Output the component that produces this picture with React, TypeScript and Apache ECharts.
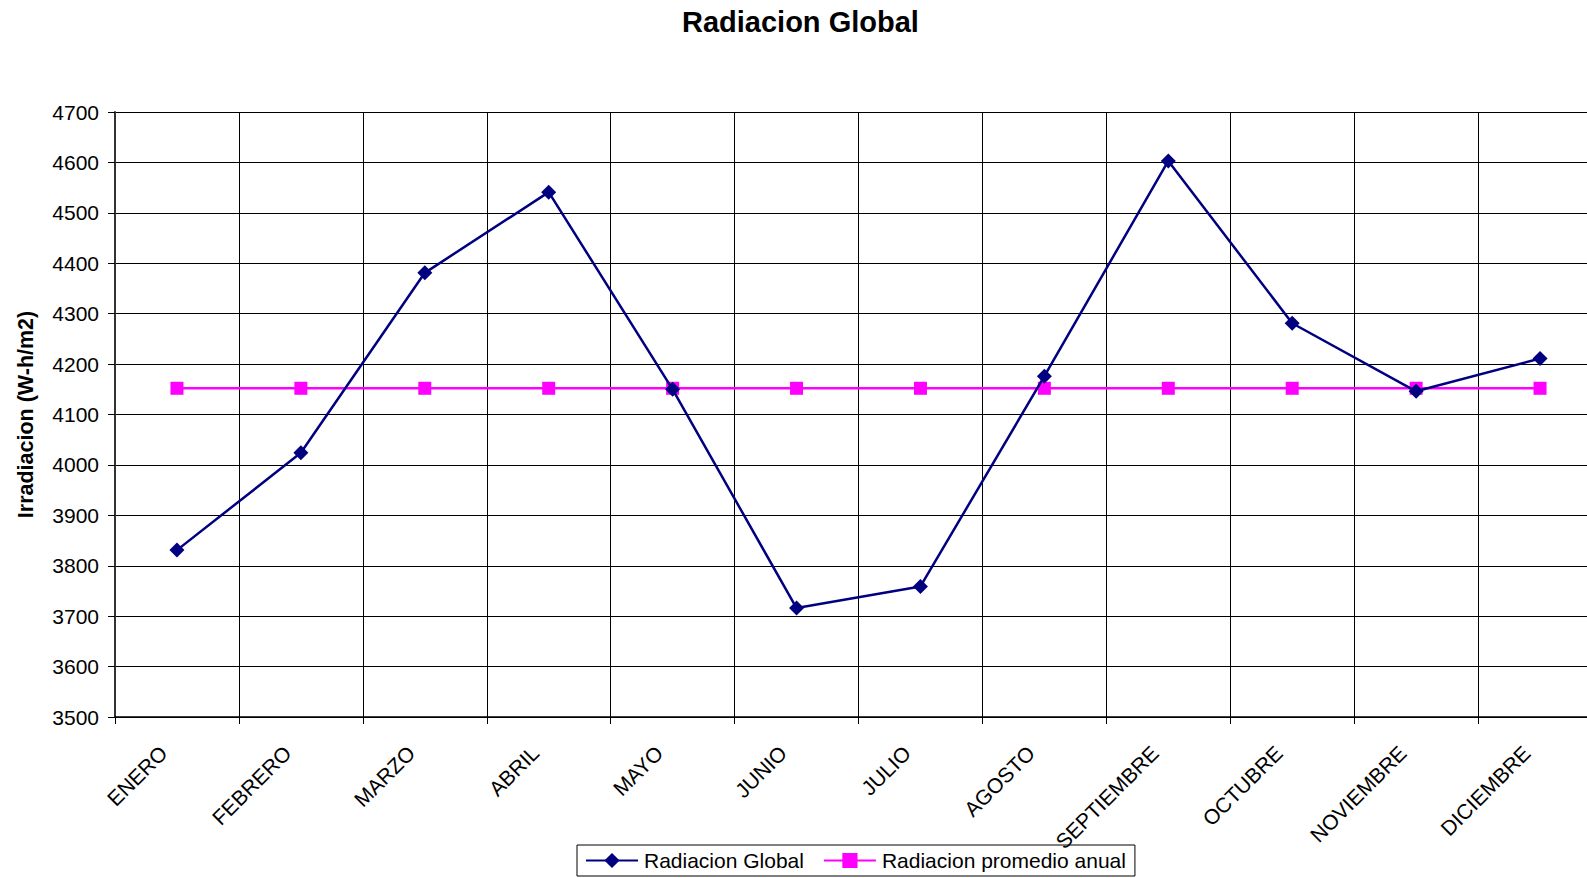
import React, { useEffect, useRef } from "react";
import * as echarts from "echarts";

const months = [
  "ENERO", "FEBRERO", "MARZO", "ABRIL", "MAYO", "JUNIO",
  "JULIO", "AGOSTO", "SEPTIEMBRE", "OCTUBRE", "NOVIEMBRE", "DICIEMBRE",
];
const radiacionGlobal = [3831, 4024, 4381, 4541, 4150, 3716, 3759, 4176, 4603, 4281, 4146, 4211];
const promedioAnual = [4152, 4152, 4152, 4152, 4152, 4152, 4152, 4152, 4152, 4152, 4152, 4152];
const yMin = 3500;
const yMax = 4700;
const yStep = 100;

const FONT = "'Liberation Sans', Arial, sans-serif";

export default function App() {
  const ref = useRef<HTMLDivElement>(null);
  useEffect(() => {
    document.body.style.margin = "0";
    const chart = echarts.init(ref.current!, undefined, { renderer: "svg" });
    chart.setOption({
      animation: false,
      backgroundColor: "#ffffff",
      textStyle: { fontFamily: FONT },
      title: {
        text: "Radiacion Global",
        left: 677,
        top: 2,
        textStyle: { fontFamily: FONT, fontSize: 29, fontWeight: "bold", color: "#000" },
      },
      legend: {
        left: 577,
        top: 845,
        padding: [5, 9, 5, 8],
        itemWidth: 52,
        itemHeight: 19,
        itemGap: 19,
        borderColor: "#000",
        borderWidth: 1,
        textStyle: { fontFamily: FONT, fontSize: 21, color: "#000", padding: [0, 0, 0, 1] },
        data: ["Radiacion Global", "Radiacion promedio anual"],
      },
      grid: {
        left: 115,
        top: 112,
        width: 1487,
        height: 605,
        containLabel: false,
        outerBoundsMode: "none",
      },
      xAxis: {
        type: "category",
        data: months,
        boundaryGap: true,
        axisLine: { lineStyle: { color: "#000", width: 1.5 } },
        axisTick: { show: true, inside: false, length: 7, lineStyle: { color: "#000" } },
        splitLine: { show: true, lineStyle: { color: "#000", width: 1 } },
        axisLabel: {
          interval: 0,
          rotate: 45,
          margin: 19,
          padding: [0, 19, 0, 0],
          fontFamily: FONT,
          fontSize: 21,
          color: "#000",
        },
      },
      yAxis: {
        type: "value",
        min: yMin,
        max: yMax,
        interval: yStep,
        name: "Irradiacion (W-h/m2)",
        nameLocation: "middle",
        nameRotate: 90,
        nameGap: 78,
        nameTextStyle: { fontFamily: FONT, fontSize: 21.5, fontWeight: "bold", color: "#000" },
        axisLine: { show: true, lineStyle: { color: "#333", width: 2 } },
        axisTick: { show: true, length: 7, lineStyle: { color: "#000" } },
        splitLine: { show: true, lineStyle: { color: "#000", width: 1 } },
        axisLabel: {
          fontFamily: FONT,
          fontSize: 21,
          color: "#000",
          margin: 16,
          formatter: (v: number) => String(v),
        },
      },
      series: [
        {
          name: "Radiacion Global",
          type: "line",
          data: radiacionGlobal,
          symbol: "diamond",
          symbolSize: 15,
          itemStyle: { color: "#000080" },
          lineStyle: { color: "#000080", width: 2.5 },
          z: 3,
        },
        {
          name: "Radiacion promedio anual",
          type: "line",
          data: promedioAnual,
          symbol: "rect",
          symbolSize: 13,
          itemStyle: { color: "#ff00ff" },
          lineStyle: { color: "#ff00ff", width: 2.5 },
          z: 2,
        },
      ],
    });
    return () => chart.dispose();
  }, []);
  return <div ref={ref} style={{ width: 1587, height: 878 }} />;
}
